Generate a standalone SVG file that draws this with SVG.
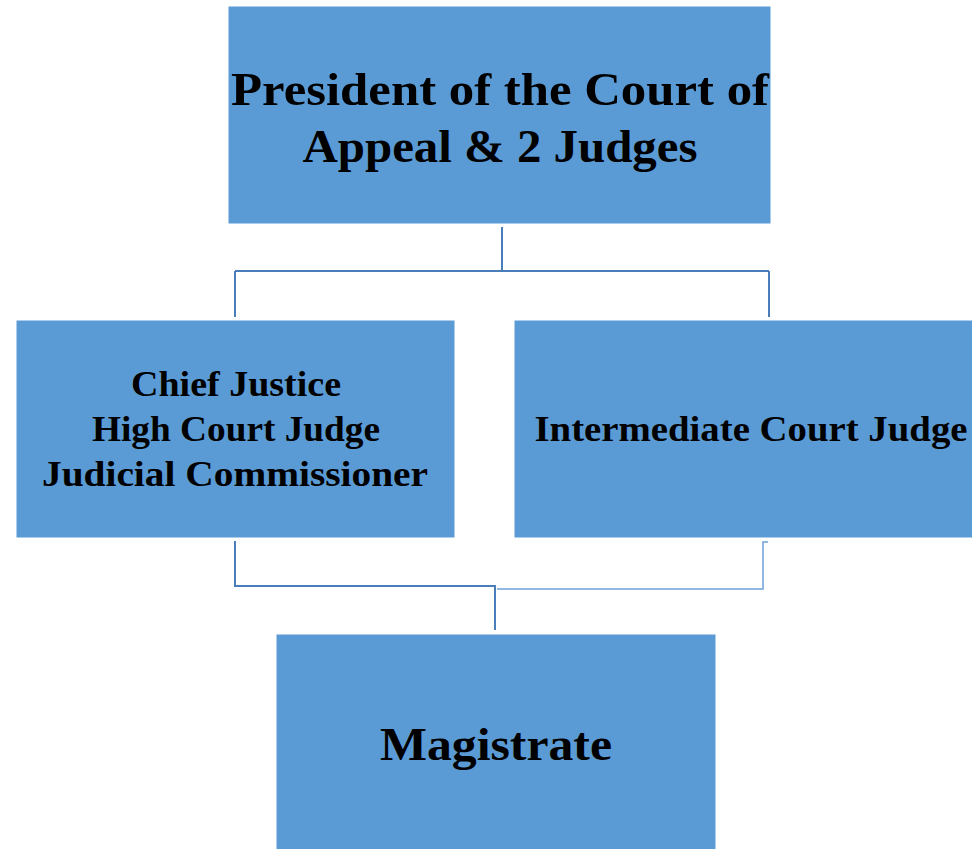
<svg xmlns="http://www.w3.org/2000/svg" width="972" height="849" viewBox="0 0 972 849">
<style>
.box{fill:#5B9BD5;stroke:#ffffff;stroke-width:1}
.t{font-family:"Liberation Serif","DejaVu Serif",serif;font-weight:bold;fill:#000;text-anchor:middle}
.big{font-size:46px}
.mid{font-size:36px}
.c{fill:none;stroke:#4A7EBB;stroke-width:2}
.c2{fill:none;stroke:#6FA0D8;stroke-width:1.5}
</style>
<rect width="972" height="849" fill="#ffffff"/>
<g id="connectors">
<path class="c" d="M502 227 V271 M235 271 H769 M235 271 V317 M769 271 V317"/>
<path class="c" d="M235 541 V586 H495 V630"/>
<path class="c2" d="M768 542 H763 V589 H497"/>
</g>
<g id="president">
<rect class="box" x="228" y="6" width="543" height="218"/>
<text class="t big" x="500" y="105" textLength="538" lengthAdjust="spacingAndGlyphs">President of the Court of</text>
<text class="t big" x="500" y="162" textLength="395" lengthAdjust="spacingAndGlyphs">Appeal &amp; 2 Judges</text>
</g>
<g id="high-court">
<rect class="box" x="16" y="320" width="439" height="218"/>
<text class="t mid" x="236" y="396" textLength="210" lengthAdjust="spacingAndGlyphs">Chief Justice</text>
<text class="t mid" x="236" y="441" textLength="288" lengthAdjust="spacingAndGlyphs">High Court Judge</text>
<text class="t mid" x="235" y="486" textLength="386" lengthAdjust="spacingAndGlyphs">Judicial Commissioner</text>
</g>
<g id="intermediate">
<rect class="box" x="514" y="320" width="460" height="218"/>
<text class="t mid" x="751" y="441" textLength="433" lengthAdjust="spacingAndGlyphs">Intermediate Court Judge</text>
</g>
<g id="magistrate">
<rect class="box" x="276" y="634" width="440" height="217"/>
<text class="t big" x="496" y="760" textLength="232" lengthAdjust="spacingAndGlyphs">Magistrate</text>
</g>
</svg>
